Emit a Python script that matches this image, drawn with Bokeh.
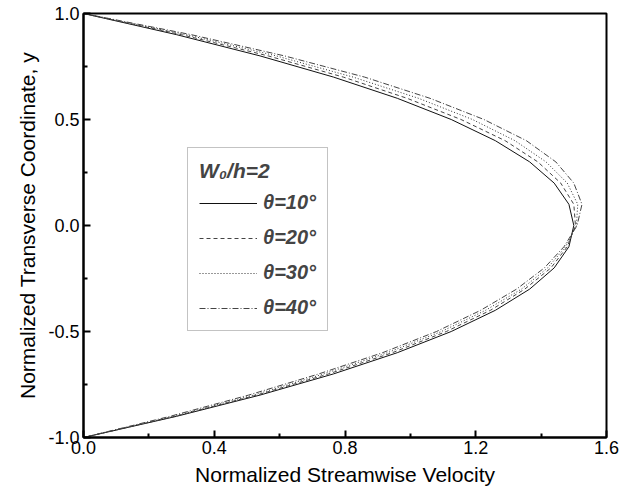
from bokeh.plotting import figure
from bokeh.models import Range1d, FixedTicker, NumeralTickFormatter, Legend, LegendItem
from bokeh.embed import file_html
from bokeh.resources import INLINE

# transverse coordinate samples (wall to wall)
y = [1.0, 0.9, 0.8, 0.7, 0.6, 0.5, 0.4, 0.3, 0.2, 0.1, 0.0,
     -0.1, -0.2, -0.3, -0.4, -0.5, -0.6, -0.7, -0.8, -0.9, -1.0]

# streamwise velocity profiles for each inclination angle
u_theta10 = [0.0, 0.285, 0.54, 0.765, 0.96, 1.125, 1.26, 1.365, 1.44, 1.485, 1.50,
             1.485, 1.44, 1.365, 1.26, 1.125, 0.96, 0.765, 0.54, 0.285, 0.0]
u_theta20 = [0.0, 0.30, 0.565, 0.795, 0.99, 1.155, 1.29, 1.39, 1.46, 1.50, 1.505,
             1.48, 1.43, 1.35, 1.245, 1.11, 0.945, 0.75, 0.53, 0.28, 0.0]
u_theta30 = [0.0, 0.315, 0.59, 0.825, 1.025, 1.19, 1.32, 1.415, 1.48, 1.512, 1.508,
             1.475, 1.42, 1.34, 1.23, 1.095, 0.93, 0.735, 0.52, 0.275, 0.0]
u_theta40 = [0.0, 0.33, 0.615, 0.86, 1.06, 1.225, 1.355, 1.445, 1.50, 1.525, 1.51,
             1.47, 1.41, 1.325, 1.215, 1.08, 0.915, 0.72, 0.505, 0.265, 0.0]

labels = ["θ=10°", "θ=20°", "θ=30°", "θ=40°"]
legend_title = "W₀/h=2"

x_major = [0.0, 0.4, 0.8, 1.2, 1.6]
x_minor = [0.2, 0.6, 1.0, 1.4]
y_major = [-1.0, -0.5, 0.0, 0.5, 1.0]
y_minor = [-0.75, -0.25, 0.25, 0.75]

FONT = "Liberation Sans"

p = figure(width=630, height=492, output_backend="svg", toolbar_location=None,
           x_range=Range1d(0, 1.6), y_range=Range1d(-1, 1),
           min_border_left=83, min_border_right=24, min_border_top=13, min_border_bottom=55)
p.grid.visible = False
p.outline_line_color = "black"
p.outline_line_width = 2
p.background_fill_color = "white"
p.border_fill_color = "white"

p.xaxis.ticker = FixedTicker(ticks=x_major, minor_ticks=x_minor)
p.yaxis.ticker = FixedTicker(ticks=y_major, minor_ticks=y_minor)
p.xaxis.formatter = NumeralTickFormatter(format="0.0")
p.yaxis.formatter = NumeralTickFormatter(format="0.0")
p.xaxis.axis_label = "Normalized Streamwise Velocity"
p.yaxis.axis_label = "Normalized Transverse Coordinate, y"
for ax in (p.xaxis, p.yaxis):
    ax.axis_line_width = 2
    ax.axis_line_color = "black"
    ax.major_tick_in = 7
    ax.major_tick_out = 0
    ax.minor_tick_in = 4
    ax.minor_tick_out = 0
    ax.major_tick_line_width = 2
    ax.minor_tick_line_width = 2
    ax.major_tick_line_color = "black"
    ax.minor_tick_line_color = "black"
    ax.major_label_text_font = FONT
    ax.major_label_text_font_size = "18px"
    ax.major_label_text_color = "black"
    ax.axis_label_text_font = FONT
    ax.axis_label_text_font_size = "21px"
    ax.axis_label_text_font_style = "normal"
    ax.axis_label_text_color = "black"
p.yaxis.major_label_standoff = 4
p.xaxis.major_label_standoff = 3
p.xaxis.axis_label_standoff = 6
p.yaxis.axis_label_standoff = 6

styles = [("solid", "#111111"), ("4 3", "#444444"), ("1 2", "#333333"), ("6 2 1 2", "#444444")]
series = [u_theta10, u_theta20, u_theta30, u_theta40]
items = []
for u, lab, (dash, col) in zip(series, labels, styles):
    r = p.line(u, y, line_color=col, line_width=1, line_dash=dash)
    items.append(LegendItem(label=lab, renderers=[r]))

legend = Legend(items=items, location=(104, 106), title=legend_title,
                title_text_font=FONT, title_text_font_size="21px",
                title_text_font_style="bold italic", title_standoff=8,
                label_text_font=FONT, label_text_font_size="20px",
                label_text_font_style="bold italic",
                glyph_width=58, glyph_height=22, spacing=12, padding=11,
                label_standoff=6, border_line_color="#888888", border_line_width=1,
                background_fill_alpha=1.0, margin=0)
p.add_layout(legend, "center")

open("out.html", "w").write(file_html(p, INLINE))
